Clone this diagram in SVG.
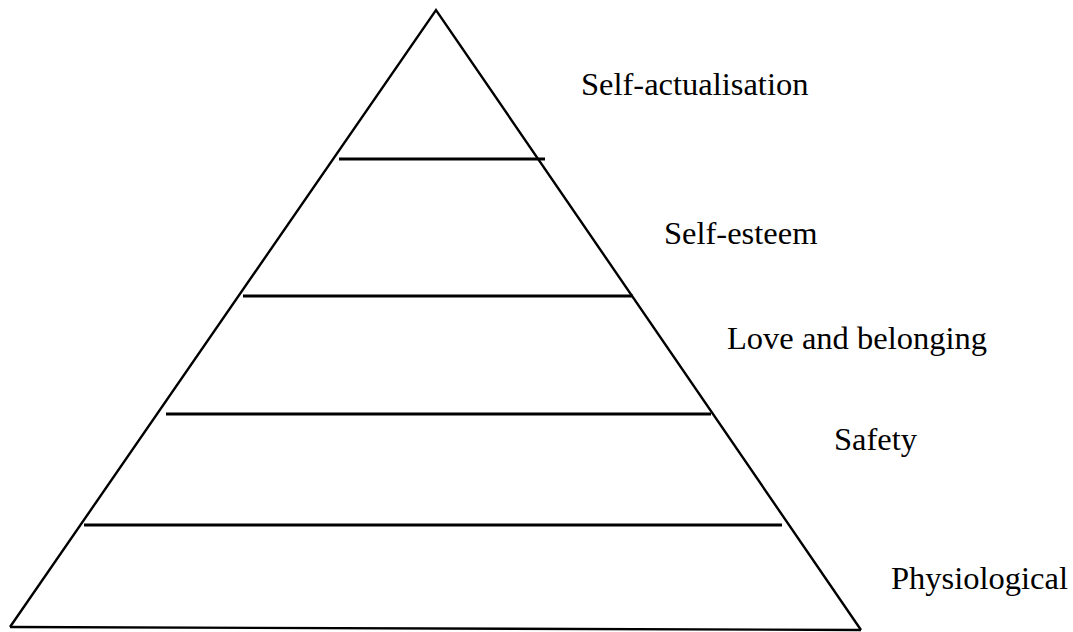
<svg xmlns="http://www.w3.org/2000/svg" width="1073" height="632" viewBox="0 0 1073 632">
  <style>
    .edge { fill: none; stroke: #000; stroke-width: 2.4; stroke-linejoin: miter; }
    .tier { stroke: #000; stroke-width: 2.8; }
    .label { font-family: "Liberation Serif", "Times New Roman", serif; font-size: 32.5px; fill: #000; }
  </style>
  <rect width="1073" height="632" fill="#fff"/>

  <!-- pyramid outline -->
  <g id="pyramid">
    <polyline class="edge" points="10,627 436,10 861,630"/>
    <line class="edge" x1="10" y1="627" x2="861" y2="630"/>
  </g>

  <!-- tier dividers -->
  <g id="dividers">
    <line class="tier" x1="339" y1="159" x2="545" y2="159"/>
    <line class="tier" x1="243" y1="296" x2="633" y2="296"/>
    <line class="tier" x1="166" y1="414" x2="711" y2="414"/>
    <line class="tier" x1="84" y1="525" x2="782" y2="525"/>
  </g>

  <!-- tier labels -->
  <g id="self-actualisation"><text class="label" x="581" y="95">Self-actualisation</text></g>
  <g id="self-esteem"><text class="label" x="664" y="244">Self-esteem</text></g>
  <g id="love-and-belonging"><text class="label" x="727" y="349">Love and belonging</text></g>
  <g id="safety"><text class="label" x="834" y="450">Safety</text></g>
  <g id="physiological"><text class="label" x="891" y="589">Physiological</text></g>
</svg>
